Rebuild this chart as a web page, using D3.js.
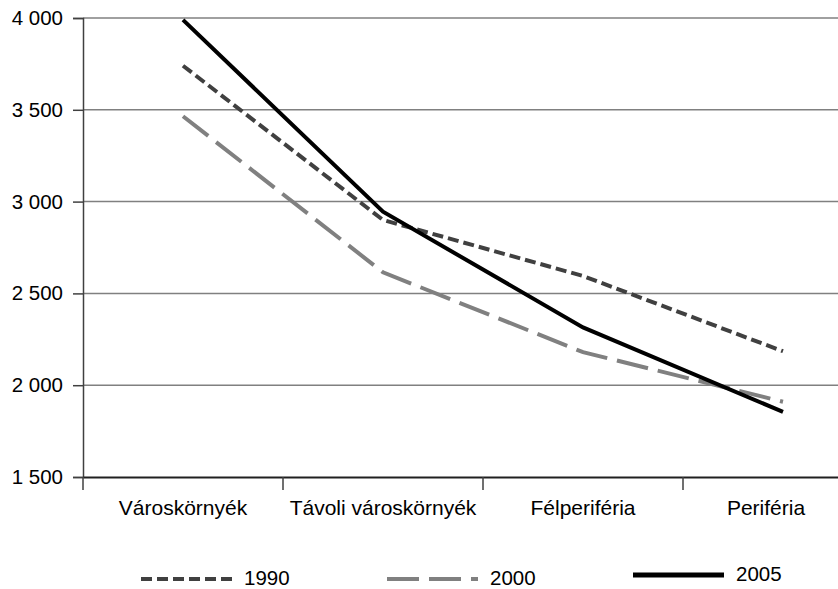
<!DOCTYPE html>
<html><head><meta charset="utf-8">
<script src="https://cdn.jsdelivr.net/npm/d3@7"></script>
<style>body{margin:0;background:#fff}svg{display:block;font-family:"Liberation Sans",Arial,sans-serif}</style>
</head><body><svg id="c" width="838" height="589"></svg>
<script>
const categories = ["Városkörnyék","Távoli városkörnyék","Félperiféria","Periféria"];
const series1990 = [3740, 2900, 2595, 2185];
const series2000 = [3465, 2615, 2180, 1910];
const series2005 = [3990, 2945, 2315, 1855];
const yTicks = [1500, 2000, 2500, 3000, 3500, 4000];
const seriesNames = ["1990","2000","2005"];

(function () {
const series = [
  {name: seriesNames[0], values: series1990, color: "#404040", dash: "11,5", width: 4},
  {name: seriesNames[1], values: series2000, color: "#808080", dash: "32,10", width: 4},
  {name: seriesNames[2], values: series2005, color: "#000000", dash: null, width: 4}
];
const FONT = "'Liberation Sans', Arial, sans-serif";

const svg = d3.select("#c");
const mLeft = 83, mTop = 18, mBottom = 477;
const x = d3.scaleBand().domain(categories).range([mLeft, mLeft + 800]);
const y = d3.scaleLinear().domain([1500, 4000]).range([mBottom, mTop]);

// gridlines
svg.append("g").selectAll("line").data(yTicks.filter(t => t > 1500)).join("line")
  .attr("x1", mLeft).attr("x2", 838)
  .attr("y1", d => y(d)).attr("y2", d => y(d))
  .attr("stroke", "#808080").attr("stroke-width", 1.5);

// y axis
const yAxis = d3.axisLeft(y).tickValues(yTicks).tickSize(10).tickPadding(10)
  .tickFormat(d => d3.format(",")(d).replace(",", " "));
const gy = svg.append("g").attr("transform", `translate(${mLeft},0)`).call(yAxis);
gy.select(".domain").attr("stroke", "#404040").attr("stroke-width", 1.5);
gy.selectAll(".tick line").attr("stroke", "#404040").attr("stroke-width", 1.5);
gy.selectAll("text").attr("font-size", 20.5).attr("fill", "#000").style("font-family", FONT);

// x axis
const xAxis = d3.axisBottom(x).tickSize(0).tickPadding(23);
const gx = svg.append("g").attr("transform", `translate(0,${mBottom})`).call(xAxis);
gx.select(".domain").attr("stroke", "#202020").attr("stroke-width", 2);
gx.selectAll("text").attr("font-size", 21).attr("fill", "#000").style("font-family", FONT)
  .attr("dx", (d, i) => i === categories.length - 1 ? -17 : 0);
// band boundary ticks
svg.append("g").selectAll("line").data(categories).join("line")
  .attr("x1", d => x(d)).attr("x2", d => x(d))
  .attr("y1", mBottom).attr("y2", mBottom + 13)
  .attr("stroke", "#404040").attr("stroke-width", 1.5);

// lines
const line = d3.line()
  .x((d, i) => x(categories[i]) + x.bandwidth() / 2)
  .y(d => y(d));
svg.append("g").selectAll("path").data(series).join("path")
  .attr("d", d => line(d.values))
  .attr("fill", "none")
  .attr("stroke", d => d.color)
  .attr("stroke-width", d => d.width)
  .attr("stroke-dasharray", d => d.dash)
  .attr("stroke-linejoin", "miter");

// legend
const legendPos = [{x: 141, y: 579}, {x: 387, y: 579}, {x: 633, y: 575}];
const lg = svg.append("g").selectAll("g").data(series).join("g")
  .attr("transform", (d, i) => `translate(${legendPos[i].x},${legendPos[i].y})`);
lg.append("line").attr("x1", 0).attr("x2", 91).attr("y1", 0).attr("y2", 0)
  .attr("stroke", d => d.color).attr("stroke-width", d => d.name === "2005" ? 5 : 4)
  .attr("stroke-dasharray", d => d.dash);
lg.append("text").attr("x", 103).attr("y", 6)
  .attr("font-size", 20.5).attr("fill", "#000").style("font-family", FONT).text(d => d.name);
})();
</script></body></html>
